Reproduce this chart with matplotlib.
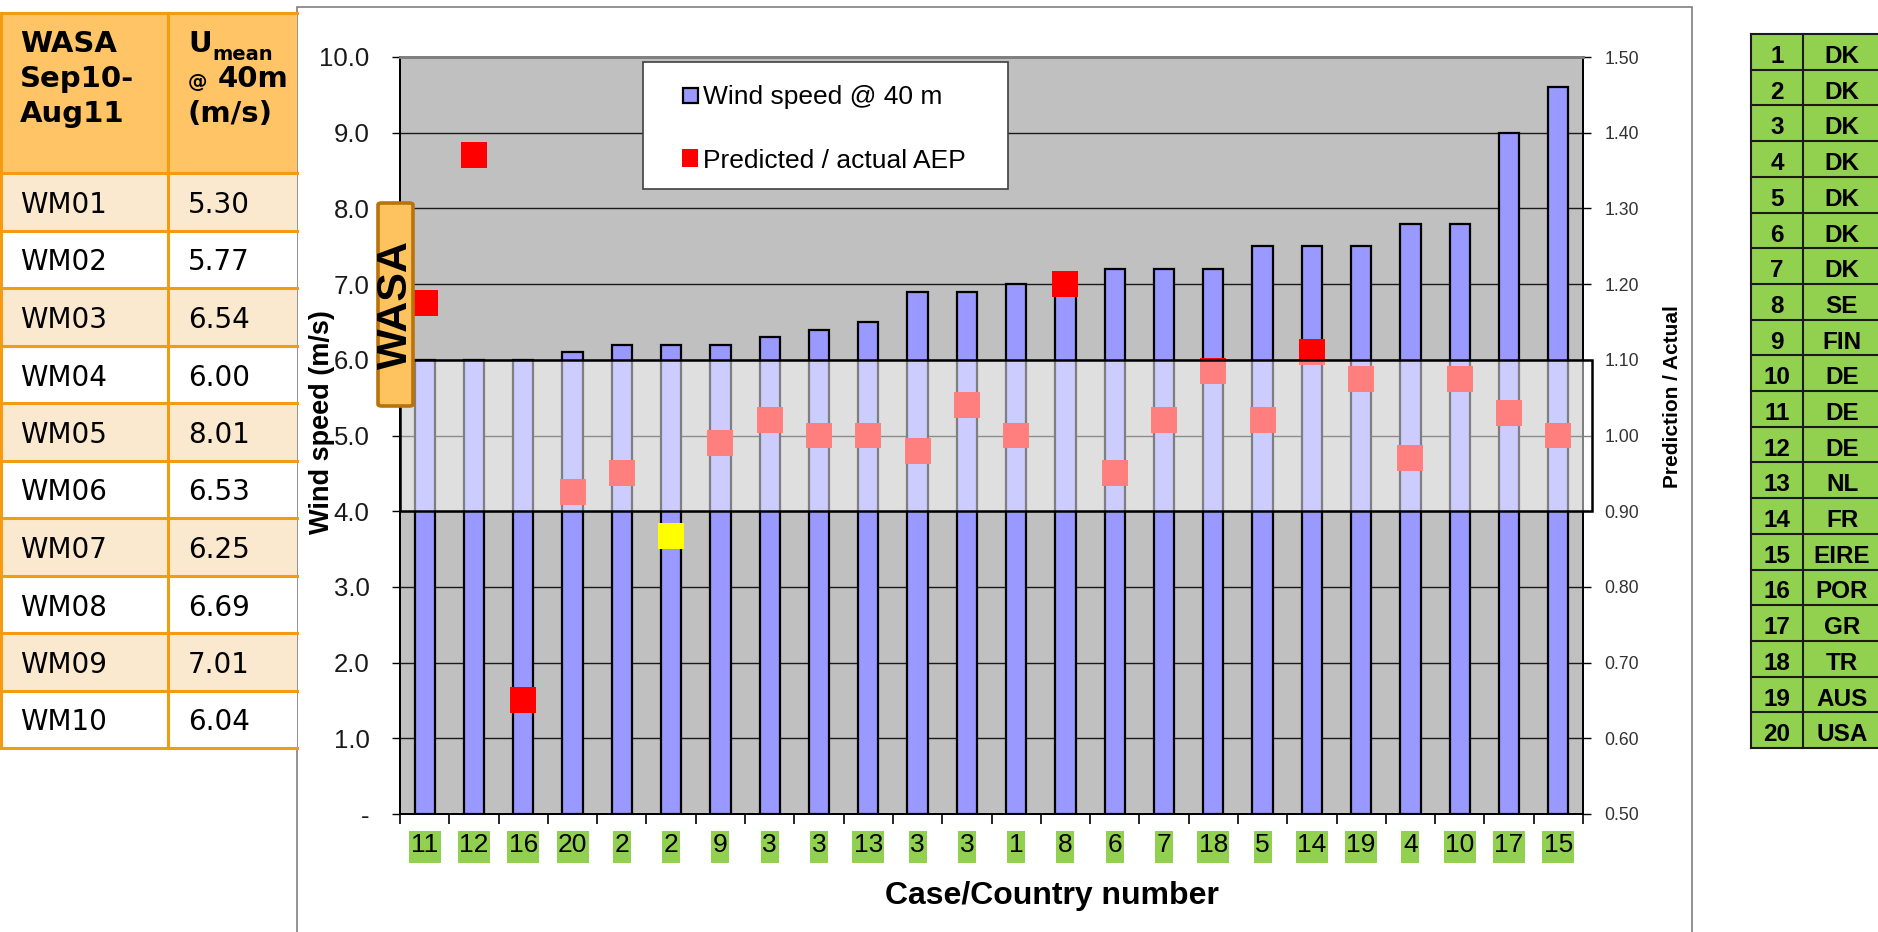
import matplotlib
matplotlib.use("Agg")
import matplotlib.pyplot as plt
import numpy as np
from matplotlib.patches import Rectangle, FancyBboxPatch
from matplotlib.lines import Line2D
from matplotlib.transforms import blended_transform_factory
from matplotlib.ticker import FormatStrFormatter

# ---------------------------------------------------------------- data
case_labels = ['11', '12', '16', '20', '2', '2', '9', '3', '3', '13', '3', '3',
               '1', '8', '6', '7', '18', '5', '14', '19', '4', '10', '17', '15']
wind_speed = [6.0, 6.0, 6.0, 6.1, 6.2, 6.2, 6.2, 6.3, 6.4, 6.5, 6.9, 6.9,
              7.0, 7.0, 7.2, 7.2, 7.2, 7.5, 7.5, 7.5, 7.8, 7.8, 9.0, 9.6]
pred_actual = [1.175, 1.37, 0.65, 0.925, 0.95, 0.867, 0.99, 1.02, 1.00, 1.00, 0.98, 1.04,
               1.00, 1.20, 0.95, 1.02, 1.085, 1.02, 1.11, 1.075, 0.97, 1.075, 1.03, 1.00]
flagged_case = 5          # case drawn in yellow

wasa_sites = ['WM01', 'WM02', 'WM03', 'WM04', 'WM05', 'WM06', 'WM07', 'WM08', 'WM09', 'WM10']
wasa_umean = [5.30, 5.77, 6.54, 6.00, 8.01, 6.53, 6.25, 6.69, 7.01, 6.04]

country_no = list(range(1, 21))
country_code = ['DK', 'DK', 'DK', 'DK', 'DK', 'DK', 'DK', 'SE', 'FIN', 'DE',
                'DE', 'DE', 'NL', 'FR', 'EIRE', 'POR', 'GR', 'TR', 'AUS', 'USA']

# ---------------------------------------------------------------- figure
W, H, DPI = 1878, 932, 100
fig = plt.figure(figsize=(W / DPI, H / DPI), dpi=DPI)
fig.patch.set_facecolor('white')

ARIAL = 'Liberation Sans'
VERDANA = 'DejaVu Sans'


def fx(x):
    return x / W


def fy(y):
    return 1 - y / H


def prect(x0, y0, x1, y1, **kw):
    r = Rectangle((fx(x0), fy(y1)), (x1 - x0) / W, (y1 - y0) / H,
                  transform=fig.transFigure, **kw)
    fig.add_artist(r)
    return r


def pline(x0, y0, x1, y1, **kw):
    ln = Line2D([fx(x0), fx(x1)], [fy(y0), fy(y1)], transform=fig.transFigure, **kw)
    fig.add_artist(ln)
    return ln


def ptext(x, y, s, **kw):
    return fig.text(fx(x), fy(y), s, **kw)


# ---------------------------------------------------------------- chart frame
prect(297, 7, 1692, 980, facecolor='white', edgecolor='#808080', linewidth=1.2, zorder=-1)

# ---------------------------------------------------------------- main axes
AX_L, AX_R, AX_T, AX_B = 400, 1583, 57, 814
ax = fig.add_axes([fx(AX_L), fy(AX_B), (AX_R - AX_L) / W, (AX_B - AX_T) / H])
ax.set_facecolor('#C0C0C0')
n = len(case_labels)
xpos = np.arange(n)
px_per_case = (AX_R - AX_L) / n
ax.bar(xpos, wind_speed, width=0.41, color='#9999FF', edgecolor='black',
       linewidth=1.6, zorder=3)
ax.set_xlim(-0.5, n - 0.5)
ax.set_ylim(0, 10)
ax.set_yticks(np.arange(0, 11))
ax.set_yticklabels(['-'] + [f'{v:.1f}' for v in range(1, 11)])
ax.yaxis.grid(True, color='#1a1a1a', linewidth=1.0)
ax.set_axisbelow(True)

ax.set_xticks(np.arange(n + 1) - 0.5)
ax.set_xticklabels([])
ax.set_xticks(xpos, minor=True)
ax.set_xticklabels(case_labels, minor=True, family=ARIAL)
ax.tick_params(axis='x', which='major', direction='out', length=7, width=1.2, color='black')
ax.tick_params(axis='x', which='minor', length=0, pad=13.4, labelsize=19, labelcolor='black')
ax.tick_params(axis='y', direction='out', length=6, width=1.0, pad=16,
               labelsize=18.5, labelcolor='#1a1a1a')
for lab in ax.get_yticklabels():
    lab.set_family(ARIAL)

# green label boxes behind the case numbers
lab_tf = blended_transform_factory(ax.transData, fig.transFigure)
for i, lab in enumerate(case_labels):
    w = (len(lab) * 14.0 + 4) / px_per_case
    ax.add_patch(Rectangle((xpos[i] - w / 2, fy(863)), w, (863 - 831) / H,
                           transform=lab_tf, facecolor='#92D050', edgecolor='none',
                           clip_on=False, zorder=0.5))

for side in ['left', 'bottom', 'right']:
    ax.spines[side].set_color('black')
    ax.spines[side].set_linewidth(1.4)
ax.spines['top'].set_color('#808080')
ax.spines['top'].set_linewidth(2.0)

# ---------------------------------------------------------------- secondary axis
ax2 = ax.twinx()
ax2.set_ylim(0.5, 1.5)
ax2.set_yticks(np.arange(0.5, 1.51, 0.1))
ax2.yaxis.set_major_formatter(FormatStrFormatter('%.2f'))
ax2.tick_params(axis='y', direction='out', length=6, width=1.0, pad=9.5,
                labelsize=12.7, labelcolor='#333333')
for lab in ax2.get_yticklabels():
    lab.set_family(ARIAL)
for side in ['left', 'bottom', 'right']:
    ax2.spines[side].set_color('black')
    ax2.spines[side].set_linewidth(1.4)
ax2.spines['top'].set_color('#808080')
ax2.spines['top'].set_linewidth(2.0)

marker_colours = ['#FF0000'] * n
marker_colours[flagged_case] = '#FFFF00'
ax2.scatter(xpos, pred_actual, marker='s', s=18.7 ** 2, c=marker_colours,
            linewidths=0, zorder=5)

# translucent acceptance band 0.90 - 1.10
band_tf = blended_transform_factory(ax2.transAxes, ax2.transData)
ax2.add_patch(Rectangle((0.0, 0.9), (1592 - AX_L) / (AX_R - AX_L), 0.2, transform=band_tf,
                        facecolor=(1, 1, 1, 0.5), edgecolor='black', linewidth=1.8,
                        zorder=10, clip_on=False))

# ---------------------------------------------------------------- axis titles
ptext(322, 422, 'Wind speed (m/s)', rotation=90, ha='center', va='center',
      fontsize=19.5, fontweight='bold', family=ARIAL, zorder=4)
ptext(1672, 397, 'Prediction / Actual', rotation=90, ha='center', va='center',
      fontsize=15, fontweight='bold', family=ARIAL, zorder=4)
ptext(1052, 896, 'Case/Country number', ha='center', va='center',
      fontsize=23, fontweight='bold', family=ARIAL, zorder=4)

# ---------------------------------------------------------------- legend
prect(643, 62, 1008, 189, facecolor='white', edgecolor='#404040', linewidth=1.2, zorder=6)
prect(683, 88, 698, 103, facecolor='#9999FF', edgecolor='black', linewidth=1.6, zorder=7)
prect(682, 149, 698, 167, facecolor='#FF0000', edgecolor='none', zorder=7)
ptext(703, 104, 'Wind speed @ 40 m', ha='left', va='baseline', fontsize=19,
      family=ARIAL, zorder=7)
ptext(703, 168, 'Predicted / actual AEP', ha='left', va='baseline', fontsize=19,
      family=ARIAL, zorder=7)

# ---------------------------------------------------------------- WASA tag
tag = FancyBboxPatch((fx(378), fy(406)), (413 - 378) / W, (406 - 203) / H,
                     boxstyle='round,pad=0,rounding_size=0.002',
                     transform=fig.transFigure, facecolor='#FEC35E',
                     edgecolor='#B8730A', linewidth=2.6, zorder=8)
fig.add_artist(tag)
ptext(396, 305, 'WASA', rotation=90, ha='center', va='center', fontsize=31,
      fontweight='bold', family=ARIAL, zorder=9)

# ---------------------------------------------------------------- WASA table (left)
ORANGE = '#F39C12'
row_top0, row_h = 173, 57.5
prect(0, 13, 297, row_top0, facecolor='#FEC466', edgecolor='none', zorder=1)
for i in range(len(wasa_sites)):
    top = row_top0 + i * row_h
    fc = '#FBE9CF' if i % 2 == 0 else 'white'
    prect(0, top, 297, top + row_h, facecolor=fc, edgecolor='none', zorder=1)
    ptext(20, top + 40, wasa_sites[i], ha='left', va='baseline', fontsize=20,
          family=VERDANA, zorder=3)
    ptext(188, top + 40, f'{wasa_umean[i]:.2f}', ha='left', va='baseline', fontsize=20,
          family=VERDANA, zorder=3)
for i in range(len(wasa_sites) + 1):
    y = row_top0 + i * row_h
    pline(0, y, 297, y, color=ORANGE, linewidth=2.2, zorder=2)
pline(0, 13, 297, 13, color=ORANGE, linewidth=2.2, zorder=2)
pline(168, 13, 168, row_top0 + len(wasa_sites) * row_h, color=ORANGE, linewidth=2.2, zorder=2)
pline(1, 13, 1, row_top0 + len(wasa_sites) * row_h, color=ORANGE, linewidth=2.2, zorder=2)

for txt, yb in [('WASA', 52), ('Sep10-', 87), ('Aug11', 122)]:
    ptext(20, yb, txt, ha='left', va='baseline', fontsize=21, fontweight='bold',
          family=VERDANA, zorder=3)
ptext(188, 52, 'U', ha='left', va='baseline', fontsize=21, fontweight='bold',
      family=VERDANA, zorder=3)
ptext(212, 60, 'mean', ha='left', va='baseline', fontsize=14, fontweight='bold',
      family=VERDANA, zorder=3)
ptext(188, 88, '@', ha='left', va='baseline', fontsize=14, fontweight='bold',
      family=VERDANA, zorder=3)
ptext(218, 87, '40m', ha='left', va='baseline', fontsize=21, fontweight='bold',
      family=VERDANA, zorder=3)
ptext(188, 122, '(m/s)', ha='left', va='baseline', fontsize=21, fontweight='bold',
      family=VERDANA, zorder=3)

# ---------------------------------------------------------------- country table (right)
tx0, tx1, tx2 = 1751, 1803, 1881
ty0, trh = 34, 35.7
nrows = len(country_no)
prect(tx0, ty0, tx2, ty0 + nrows * trh, facecolor='#92D050', edgecolor='none', zorder=1)
for i in range(nrows + 1):
    y = ty0 + i * trh
    pline(tx0, y, tx2, y, color='#1a1a1a', linewidth=1.5, zorder=2)
for x in (tx0, tx1):
    pline(x, ty0, x, ty0 + nrows * trh, color='#1a1a1a', linewidth=1.5, zorder=2)
for i in range(nrows):
    yb = ty0 + i * trh + 29
    ptext((tx0 + tx1) / 2, yb, str(country_no[i]), ha='center', va='baseline',
          fontsize=17.5, fontweight='bold', family=ARIAL, zorder=3)
    ptext(1842, yb, country_code[i], ha='center', va='baseline',
          fontsize=17.5, fontweight='bold', family=ARIAL, zorder=3)

fig.savefig('out.png', dpi=DPI, facecolor='white')
